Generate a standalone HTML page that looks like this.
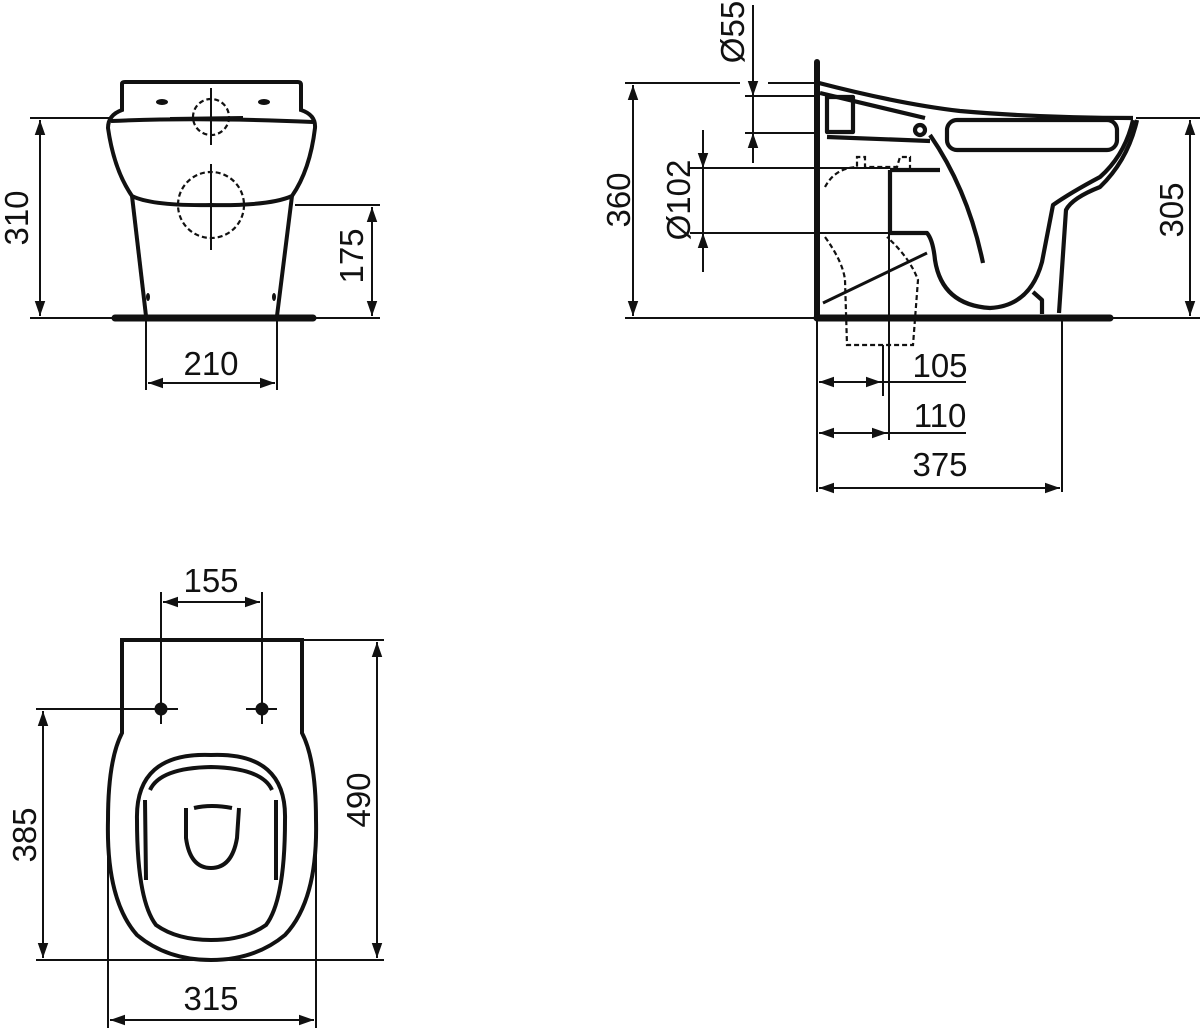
<!DOCTYPE html>
<html><head><meta charset="utf-8"><style>
html,body{margin:0;padding:0;background:#fff;}
svg{display:block;}
text{font-family:"Liberation Sans",Arial,sans-serif;font-size:33px;fill:#111;}
</style></head><body>
<svg width="1200" height="1029" viewBox="0 0 1200 1029" xmlns="http://www.w3.org/2000/svg">
<defs>
<marker id="a" viewBox="0 0 10 10" refX="10" refY="5" markerWidth="15" markerHeight="15" markerUnits="userSpaceOnUse" orient="auto-start-reverse"><path d="M0,1.5 L10,5 L0,8.5 z" fill="#111"/></marker>
</defs>
<g stroke="#111" fill="none" stroke-width="2">
<!-- FRONT VIEW -->
<line x1="30" y1="118" x2="112" y2="118"/>
<line x1="30" y1="318" x2="112" y2="318"/>
<line x1="295" y1="205" x2="380" y2="205"/>
<line x1="310" y1="318" x2="380" y2="318"/>
<line x1="146" y1="318" x2="146" y2="390"/>
<line x1="277" y1="318" x2="277" y2="390"/>
<line x1="40" y1="120" x2="40" y2="316" marker-start="url(#a)" marker-end="url(#a)"/>
<line x1="372" y1="207" x2="372" y2="316" marker-start="url(#a)" marker-end="url(#a)"/>
<line x1="148" y1="383" x2="275" y2="383" marker-start="url(#a)" marker-end="url(#a)"/>
<g stroke-width="4">
<path d="M122,110 L122,84 Q122,82 125,82 L298,82 Q301,82 301,85 L301,110 Q316,115 315,128 Q310,170 292,196 Q270,206 211,205 Q152,206 132,196 Q114,170 108,128 Q108,115 122,110 Z"/>
<path d="M111,121 Q200,117 313,122"/>
<path d="M132,196 L146,316"/>
<path d="M292,196 L277,316"/>
</g>
<line x1="115" y1="318" x2="313" y2="318" stroke-width="7" stroke-linecap="round"/>
<ellipse cx="162" cy="102" rx="6" ry="3" fill="#111" stroke="none"/>
<ellipse cx="264" cy="102" rx="6" ry="3" fill="#111" stroke="none"/>
<ellipse cx="148" cy="297" rx="2" ry="4" fill="#111" stroke="none"/>
<ellipse cx="274" cy="297" rx="2" ry="4" fill="#111" stroke="none"/>
<circle cx="211" cy="117" r="18" stroke-dasharray="5,3" stroke-width="2.2"/>
<circle cx="211" cy="205" r="33" stroke-dasharray="5,3" stroke-width="2.2"/>
<line x1="211" y1="88" x2="211" y2="145"/>
<line x1="211" y1="164" x2="211" y2="250"/>
<line x1="170" y1="118" x2="243" y2="117"/>

<!-- SIDE VIEW -->
<line x1="625" y1="83" x2="740" y2="83"/>
<line x1="768" y1="83" x2="817" y2="83"/>
<line x1="745" y1="96" x2="817" y2="96"/>
<line x1="745" y1="133" x2="817" y2="133"/>
<line x1="690" y1="168" x2="890" y2="168"/>
<line x1="690" y1="233" x2="890" y2="233"/>
<line x1="625" y1="318" x2="817" y2="318"/>
<line x1="1112" y1="318" x2="1200" y2="318"/>
<line x1="1136" y1="118" x2="1200" y2="118"/>
<line x1="633" y1="85" x2="633" y2="316" marker-start="url(#a)" marker-end="url(#a)"/>
<line x1="1190" y1="120" x2="1190" y2="316" marker-start="url(#a)" marker-end="url(#a)"/>
<line x1="753" y1="5" x2="753" y2="96" marker-end="url(#a)"/>
<line x1="753" y1="96" x2="753" y2="133"/>
<line x1="753" y1="163" x2="753" y2="133" marker-end="url(#a)"/>
<line x1="703" y1="130" x2="703" y2="168" marker-end="url(#a)"/>
<line x1="703" y1="168" x2="703" y2="233"/>
<line x1="703" y1="272" x2="703" y2="233" marker-end="url(#a)"/>
<line x1="817" y1="318" x2="817" y2="492"/>
<line x1="1062" y1="318" x2="1062" y2="492"/>
<line x1="883" y1="345" x2="883" y2="396"/>
<line x1="889" y1="233" x2="889" y2="440"/>
<line x1="819" y1="382" x2="881" y2="382" marker-start="url(#a)" marker-end="url(#a)"/>
<line x1="881" y1="382" x2="966" y2="382"/>
<line x1="819" y1="433" x2="887" y2="433" marker-start="url(#a)" marker-end="url(#a)"/>
<line x1="887" y1="433" x2="966" y2="433"/>
<line x1="819" y1="488" x2="1060" y2="488" marker-start="url(#a)" marker-end="url(#a)"/>
<g stroke-width="4.2" stroke-linejoin="round">
<line x1="817" y1="62" x2="817" y2="318" stroke-width="6" stroke-linecap="round"/>
<path d="M819,83 Q900,104 960,111 Q1040,118 1133,118"/>
<path d="M820,93 L925,118"/>
<rect x="827" y="97" width="26" height="35"/>
<path d="M827,137 L930,141"/>
<circle cx="920" cy="130" r="5"/>
<rect x="947" y="120" width="170" height="30" rx="10"/>
<path d="M930,135 Q968,190 983,263"/>
<path d="M890,170 L940,170"/>
<path d="M890,170 L890,233 L927,233 Q933,240 935,260 Q942,305 990,308 Q1030,306 1042,262 L1053,205 Q1070,193 1100,177 Q1125,155 1133,120"/>
<path d="M1137,120 Q1128,160 1100,187 Q1072,198 1066,210 L1059,313"/>
<path d="M1033,292 L1042,300 L1042,314"/>
<line x1="823" y1="303" x2="927" y2="253" stroke-width="3"/>
</g>
<line x1="817" y1="318" x2="1110" y2="318" stroke-width="7" stroke-linecap="round"/>
<g stroke-width="2.2" stroke-dasharray="5,3">
<path d="M825,187 Q835,168 857,167 L857,157 L865,157 L865,167 L897,167 L900,157 L910,157 L910,168"/>
<path d="M825,237 Q843,262 845,280 L847,345 L913,345 L918,280 Q910,258 887,237"/>
</g>

<!-- PLAN VIEW -->
<line x1="36" y1="709" x2="178" y2="709"/>
<line x1="246" y1="709" x2="277" y2="709"/>
<line x1="298" y1="640" x2="384" y2="640"/>
<line x1="36" y1="960" x2="384" y2="960"/>
<line x1="161" y1="592" x2="161" y2="724"/>
<line x1="262" y1="592" x2="262" y2="724"/>
<line x1="108" y1="820" x2="108" y2="1028"/>
<line x1="316" y1="820" x2="316" y2="1028"/>
<line x1="163" y1="602" x2="260" y2="602" marker-start="url(#a)" marker-end="url(#a)"/>
<line x1="377" y1="642" x2="377" y2="958" marker-start="url(#a)" marker-end="url(#a)"/>
<line x1="43" y1="711" x2="43" y2="958" marker-start="url(#a)" marker-end="url(#a)"/>
<line x1="110" y1="1020" x2="314" y2="1020" marker-start="url(#a)" marker-end="url(#a)"/>
<g stroke-width="4">
<path d="M122,640 L302,640 L302,733 Q316,760 316,820 Q318,900 285,935 Q255,960 211,960 Q167,960 137,935 Q106,900 108,820 Q108,760 122,733 Z"/>
<path d="M211,755 Q287,752 285,820 Q285,900 266,925 Q245,940 211,940 Q177,940 156,925 Q137,900 137,820 Q135,752 211,755 Z"/>
<path d="M150,790 Q160,768 211,767 Q262,768 272,790 M145,800 L146,880 M276,800 L276,880"/>
<path d="M186,808 L186,838 Q190,868 211,868 Q232,868 237,838 L239,808 M194,808 Q211,804 232,808"/>
</g>
<circle cx="161" cy="709" r="5.5" fill="#111"/>
<circle cx="262" cy="709" r="5.5" fill="#111"/>
</g>
<g>
<text x="211" y="375" text-anchor="middle">210</text>
<text transform="translate(28,218) rotate(-90)" text-anchor="middle">310</text>
<text transform="translate(363,256) rotate(-90)" text-anchor="middle">175</text>
<text transform="translate(630,200) rotate(-90)" text-anchor="middle">360</text>
<text transform="translate(1183,210) rotate(-90)" text-anchor="middle">305</text>
<text transform="translate(744,32) rotate(-90)" text-anchor="middle">Ø55</text>
<text transform="translate(690,200) rotate(-90)" text-anchor="middle">Ø102</text>
<text x="940" y="377" text-anchor="middle">105</text>
<text x="940" y="427" text-anchor="middle">110</text>
<text x="940" y="476" text-anchor="middle">375</text>
<text x="211" y="592" text-anchor="middle">155</text>
<text transform="translate(370,800) rotate(-90)" text-anchor="middle">490</text>
<text transform="translate(36,835) rotate(-90)" text-anchor="middle">385</text>
<text x="211" y="1010" text-anchor="middle">315</text>
</g>
</svg>
</body></html>
